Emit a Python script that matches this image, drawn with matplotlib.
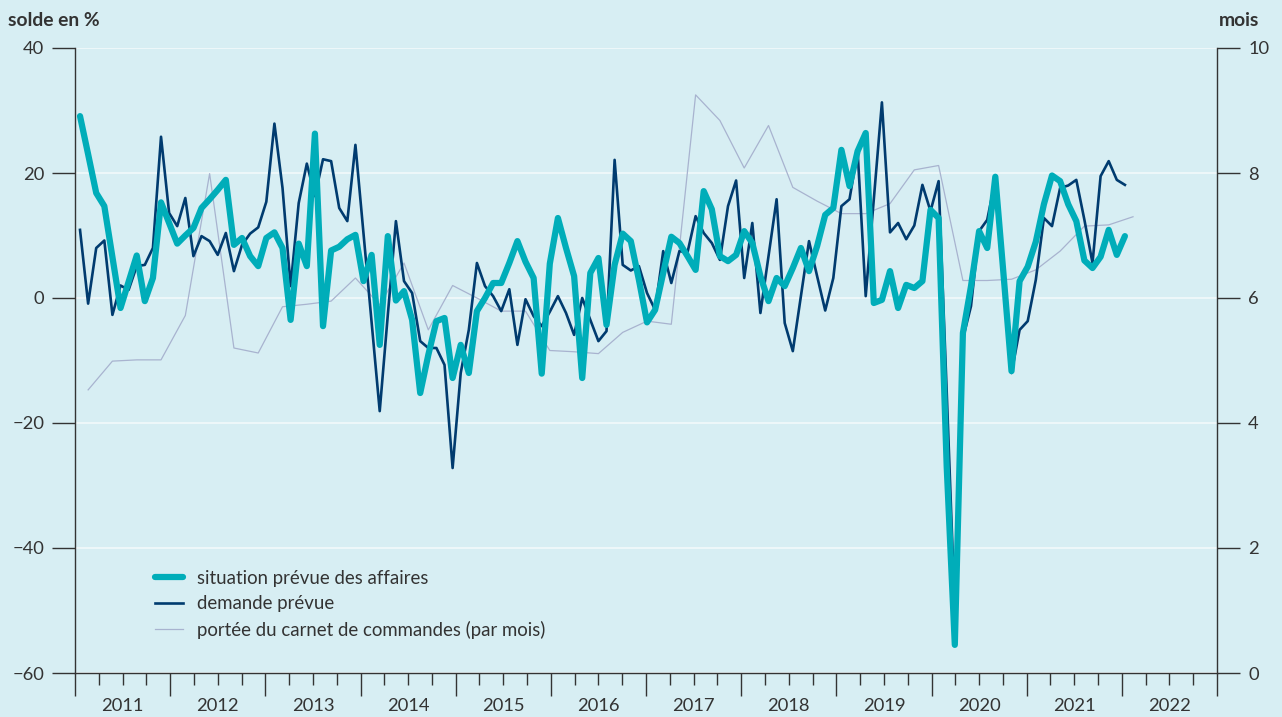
import numpy as np
import matplotlib
matplotlib.use("Agg")
import matplotlib.pyplot as plt
from matplotlib.lines import Line2D

# monthly survey balances (in %), April 2011 - January 2022
business = [
    29.1, 23.0, 16.8, 14.7, 6.5, -1.6, 2.6, 6.8, -0.5, 3.2,
    15.3, 12.0, 8.7, 10.0, 11.2, 14.4, 15.8, 17.3, 18.9, 8.5,
    9.6, 6.7, 5.1, 9.6, 10.5, 8.0, -3.5, 8.7, 5.1, 26.3,
    -4.5, 7.6, 8.2, 9.4, 10.1, 2.7, 6.9, -7.5, 9.9, -0.4,
    1.1, -3.5, -15.2, -9.1, -3.7, -3.2, -12.8, -7.5, -12.0, -2.1,
    0.0, 2.4, 2.4, 5.6, 9.1, 5.8, 3.2, -12.1, 5.5, 12.8,
    8.0, 3.5, -12.8, 4.0, 6.4, -4.3, 5.3, 10.3, 9.1, 2.9,
    -3.9, -1.9, 4.0, 9.8, 8.8, 6.7, 4.5, 17.1, 14.2, 6.7,
    5.9, 6.9, 10.7, 8.8, 3.5, -0.5, 3.2, 1.9, 4.8, 8.0,
    4.3, 8.3, 13.3, 14.4, 23.7, 17.9, 23.5, 26.4, -0.8, -0.3,
    4.3, -1.6, 2.1, 1.6, 2.7, 14.1, 12.8, -27.0, -55.5, -5.6,
    1.9, 10.7, 8.0, 19.4, 4.0, -11.7, 2.7, 5.0, 9.0, 15.0,
    19.6, 18.7, 15.0, 12.3, 6.0, 4.8, 6.6, 10.9, 6.9, 9.9,
]
demand = [
    10.9, -0.9, 8.0, 9.2, -2.7, 2.0, 1.3, 5.1, 5.3, 8.0,
    25.8, 13.6, 11.5, 16.0, 6.7, 9.9, 9.1, 6.9, 10.4, 4.3,
    8.5, 10.3, 11.3, 15.4, 27.9, 17.6, 1.9, 15.2, 21.5, 16.3,
    22.2, 21.9, 14.4, 12.3, 24.5, 10.3, -4.0, -18.1, -2.7, 12.3,
    2.7, 0.8, -6.9, -8.0, -8.0, -10.7, -27.2, -12.0, -5.1, 5.6,
    1.9, 0.3, -2.1, 1.4, -7.5, -0.2, -2.9, -4.5, -2.2, 0.3,
    -2.4, -5.9, 0.0, -3.5, -6.9, -5.3, 22.1, 5.3, 4.4, 5.1,
    0.8, -1.9, 7.5, 2.4, 7.5, 7.3, 13.1, 10.4, 8.8, 6.1,
    14.7, 18.8, 3.2, 12.0, -2.4, 6.7, 15.8, -4.0, -8.5, 0.3,
    9.1, 3.5, -2.0, 3.2, 14.7, 15.8, 23.5, 0.3, 15.8, 31.3,
    10.5, 12.0, 9.4, 11.6, 18.1, 13.9, 18.7, -15.0, -50.0, -6.5,
    -1.3, 10.7, 12.5, 18.9, 3.5, -12.0, -5.1, -3.7, 2.9, 12.8,
    11.5, 17.6, 18.0, 18.9, 12.5, 5.6, 19.5, 21.9, 18.9, 18.1,
]
# quarterly order backlog in months, Q2 2011 - Q1 2022
backlog = [
    4.53, 4.99, 5.01, 5.01, 5.72, 7.99, 5.20, 5.12, 5.86, 5.90,
    5.95, 6.32, 5.89, 6.56, 5.49, 6.20, 6.00, 5.79, 5.79, 5.16,
    5.14, 5.11, 5.45, 5.63, 5.58, 9.25, 8.84, 8.08, 8.76, 7.77,
    7.55, 7.35, 7.35, 7.51, 8.05, 8.12, 6.28, 6.28, 6.30, 6.45,
    6.75, 7.15, 7.17, 7.30,
]
years = list(range(2011, 2023))
left_ticks = [-60, -40, -20, 0, 20, 40]
right_ticks = [0, 2, 4, 6, 8, 10]
labels = ["situation prévue des affaires", "demande prévue",
          "portée du carnet de commandes (par mois)"]

BG = "#d7eef3"
TEAL = "#00adb9"
NAVY = "#003b6f"
LAV = "#a8b3cf"
INK = "#333333"
GRID = "#eef8fa"

plt.rcParams["font.family"] = ["Lato", "DejaVu Sans"]

fig = plt.figure(figsize=(12.82, 7.17), dpi=100, facecolor=BG)
rect = [75 / 1282, 1 - 673 / 717, 1142 / 1282, 625 / 717]

# frame: left scale, grid and year axis
ax = fig.add_axes(rect, facecolor=BG, zorder=0)
ax.set_xlim(years[0], years[-1] + 1)
ax.set_ylim(left_ticks[0], left_ticks[-1])
ax.set_yticks(left_ticks)
ax.yaxis.grid(True, color=GRID, lw=1.4)
ax.set_axisbelow(True)
for side in ["top", "right"]:
    ax.spines[side].set_visible(False)
for side in ["left", "bottom"]:
    ax.spines[side].set_color(INK)
    ax.spines[side].set_linewidth(1.0)
ax.tick_params(axis="y", direction="out", length=16.5, width=1.0, color=INK,
               pad=5.5, labelsize=13.2, labelcolor=INK)
ax.set_xticks(years + [years[-1] + 1], labels=[""] * (len(years) + 1))
quarters = [y + q / 4 for y in years for q in (1, 2, 3)]
ax.set_xticks(quarters, minor=True,
              labels=[str(int(q)) if q % 1 == 0.5 else "" for q in quarters])
ax.tick_params(axis="x", which="major", direction="out", length=16.5, width=1.0, color=INK)
ax.tick_params(axis="x", which="minor", direction="out", length=8.5, width=1.0, color=INK,
               pad=9.5, labelsize=13.2, labelcolor=INK)

# data axes: points evenly spaced as in the original
idx = np.arange(len(business))
axd = fig.add_axes(rect, zorder=2)
axd.patch.set_visible(False)
axd.set_xlim(-0.62, 140.37)
axd.set_ylim(left_ticks[0], left_ticks[-1])
axd.axis("off")

axg = axd.twinx()
axg.set_zorder(1)
axg.patch.set_visible(False)
axg.set_ylim(right_ticks[0], right_ticks[-1])
axg.set_yticks(right_ticks)
for side in ["top", "left", "bottom"]:
    axg.spines[side].set_visible(False)
axg.spines["right"].set_color(INK)
axg.spines["right"].set_linewidth(1.0)
axg.tick_params(axis="y", direction="out", length=16.5, width=1.0, color=INK,
                pad=6, labelsize=13.2, labelcolor=INK)

qidx = np.arange(len(backlog)) * 3 + 1
axg.plot(qidx, backlog, color=LAV, lw=0.9)
axd.plot(idx, demand, color=NAVY, lw=1.9, solid_joinstyle="round")
axd.plot(idx, business, color=TEAL, lw=4.5, solid_joinstyle="round",
         solid_capstyle="round")

handles = [
    Line2D([], [], color=TEAL, lw=4.5, solid_capstyle="round"),
    Line2D([], [], color=NAVY, lw=1.9),
    Line2D([], [], color=LAV, lw=0.9),
]
fig.legend(handles, labels, loc="upper left", bbox_to_anchor=(155 / 1282, 1 - 570 / 717),
           frameon=False, fontsize=13.4, labelcolor=INK, handlelength=1.5,
           handletextpad=0.75, labelspacing=0.45, borderaxespad=0, borderpad=0)

fig.text(8 / 1282, 1 - 26 / 717, "solde en %", fontsize=13.9, fontweight="bold",
         color=INK, ha="left", va="baseline")
fig.text(1259 / 1282, 1 - 26 / 717, "mois", fontsize=13.9, fontweight="bold",
         color=INK, ha="right", va="baseline")

fig.savefig("out.png", dpi=100, facecolor=BG)
